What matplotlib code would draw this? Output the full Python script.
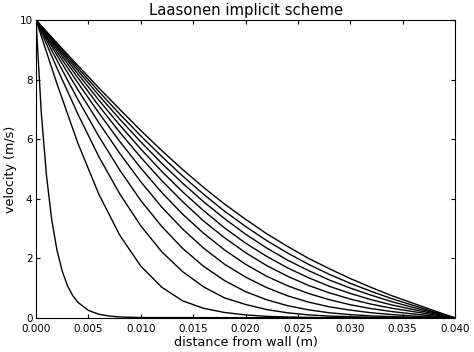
"""Laasonen implicit scheme velocity profiles (Stokes first problem), recreated."""

import matplotlib
matplotlib.use("Agg")
import matplotlib.pyplot as plt

# distance from wall (m) for the later profiles
x = [0.000, 0.002, 0.004, 0.006, 0.008, 0.010, 0.012, 0.014, 0.016, 0.018, 0.020,
     0.022, 0.024, 0.026, 0.028, 0.030, 0.032, 0.034, 0.036, 0.038, 0.040]

# first profile is very thin, so it gets its own finer grid
x_first = [0.0, 0.0005, 0.001, 0.0015, 0.002, 0.0025, 0.003, 0.0035, 0.004,
           0.005, 0.006, 0.007, 0.008, 0.010, 0.040]
u_first = [10.0, 6.90, 4.77, 3.29, 2.27, 1.57, 1.08, 0.75, 0.52,
           0.25, 0.12, 0.06, 0.03, 0.01, 0.0]

u2 = [10, 7.86, 5.86, 4.15, 2.77, 1.74, 1.03, 0.57, 0.32, 0.18, 0.10,
      0.05, 0.03, 0.015, 0.01, 0.005, 0, 0, 0, 0, 0]
u3 = [10, 8.39, 6.84, 5.41, 4.16, 3.09, 2.22, 1.55, 1.04, 0.67, 0.45,
      0.28, 0.17, 0.10, 0.06, 0.04, 0.02, 0.01, 0.005, 0.002, 0]
u4 = [10, 8.65, 7.33, 6.09, 4.96, 3.94, 3.07, 2.33, 1.73, 1.25, 0.88,
      0.61, 0.41, 0.27, 0.17, 0.11, 0.065, 0.04, 0.02, 0.01, 0]
u5 = [10, 8.82, 7.66, 6.55, 5.52, 4.57, 3.72, 2.98, 2.34, 1.80, 1.37,
      1.02, 0.74, 0.53, 0.37, 0.26, 0.17, 0.11, 0.06, 0.03, 0]
u6 = [10, 8.93, 7.89, 6.88, 5.92, 5.03, 4.21, 3.48, 2.84, 2.28, 1.80,
      1.40, 1.08, 0.82, 0.61, 0.44, 0.31, 0.21, 0.13, 0.06, 0]
u7 = [10, 9.02, 8.06, 7.12, 6.23, 5.39, 4.61, 3.90, 3.25, 2.69, 2.19,
      1.76, 1.40, 1.09, 0.84, 0.63, 0.46, 0.32, 0.21, 0.10, 0]
u8 = [10, 9.09, 8.19, 7.31, 6.47, 5.67, 4.92, 4.23, 3.60, 3.02, 2.51,
      2.07, 1.68, 1.35, 1.06, 0.82, 0.61, 0.43, 0.28, 0.14, 0]
u9 = [10, 9.14, 8.30, 7.47, 6.67, 5.91, 5.19, 4.52, 3.90, 3.33, 2.81,
      2.35, 1.94, 1.59, 1.27, 1.00, 0.76, 0.54, 0.35, 0.17, 0]
u10 = [10, 9.19, 8.39, 7.60, 6.84, 6.11, 5.42, 4.76, 4.15, 3.58, 3.07,
       2.60, 2.18, 1.80, 1.46, 1.16, 0.89, 0.64, 0.42, 0.20, 0]
u11 = [10, 9.23, 8.47, 7.72, 7.00, 6.29, 5.62, 4.98, 4.38, 3.82, 3.31,
       2.83, 2.40, 2.00, 1.65, 1.32, 1.02, 0.74, 0.49, 0.24, 0]

profiles = [u2, u3, u4, u5, u6, u7, u8, u9, u10, u11]

xticks = [0.000, 0.005, 0.010, 0.015, 0.020, 0.025, 0.030, 0.035, 0.040]
yticks = [0, 2, 4, 6, 8, 10]

fig = plt.figure(figsize=(4.74, 3.52), dpi=100)
ax = fig.add_axes([0.076, 0.097, 0.884, 0.846])

ax.plot(x_first, u_first, "k-", linewidth=1.0)
for u in profiles:
    ax.plot(x, u, "k-", linewidth=1.0)

ax.set_xlim(0.0, 0.04)
ax.set_ylim(0, 10)
ax.set_xticks(xticks)
ax.set_xticklabels([f"{t:.3f}" for t in xticks])
ax.set_yticks(yticks)
ax.tick_params(direction="in", top=True, right=True, labelsize=7.5, length=3)
ax.tick_params(axis="x", pad=4.5)
ax.tick_params(axis="y", pad=2.5)
ax.set_xlabel("distance from wall (m)", fontsize=9.2, labelpad=1.5)
ax.set_ylabel("velocity (m/s)", fontsize=9.2, labelpad=2)
ax.set_title("Laasonen implicit scheme", fontsize=10.7, pad=3.5)

fig.savefig("out.png", dpi=100)
